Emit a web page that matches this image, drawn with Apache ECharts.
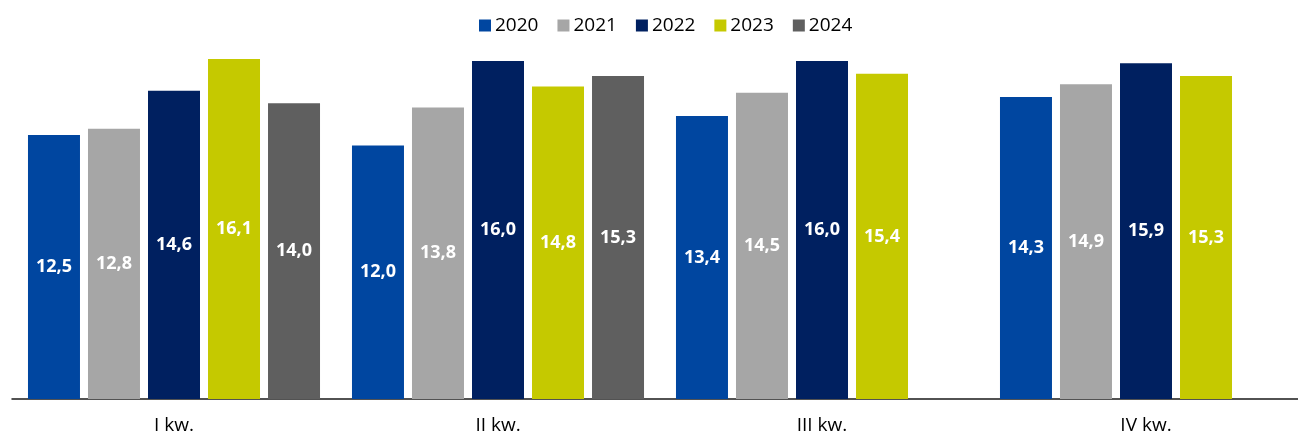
<!DOCTYPE html>
<html>
<head>
<meta charset="utf-8">
<script src="https://cdn.jsdelivr.net/npm/echarts@6/dist/echarts.min.js"></script>
<style>
  html, body { margin: 0; padding: 0; background: #fff; overflow: hidden; }
  /* the plot area runs a little past the right edge of the page */
  #chart { width: 1310px; height: 435px; }
</style>
</head>
<body>
<div id="chart"></div>
<script>
// Quarterly values per year
const quarters = ['I kw.', 'II kw.', 'III kw.', 'IV kw.'];
const years = ['2020', '2021', '2022', '2023', '2024'];
const v2020 = [12.5, 12.0, 13.4, 14.3];
const v2021 = [12.8, 13.8, 14.5, 14.9];
const v2022 = [14.6, 16.0, 16.0, 15.9];
const v2023 = [16.1, 14.8, 15.4, 15.3];
const v2024 = [14.0, 15.3, null, null];

const values = [v2020, v2021, v2022, v2023, v2024];
const colors = ['#0046A0', '#A6A6A6', '#002060', '#C5C900', '#5F5F5F'];

const FONT = '"Open Sans", "Liberation Sans", sans-serif';

const chart = echarts.init(document.getElementById('chart'), null, { renderer: 'canvas' });

chart.setOption({
  animation: false,
  backgroundColor: '#ffffff',
  color: colors,
  legend: {
    data: years,
    left: 474,
    top: 11,
    icon: 'rect',
    itemWidth: 12,
    itemHeight: 12,
    itemGap: 19,
    textStyle: { fontFamily: FONT, fontSize: 19, color: '#000000', padding: [0, 0, 0, -1] }
  },
  grid: { left: 12, right: 2, top: 40, bottom: 36, containLabel: false },
  xAxis: {
    type: 'category',
    data: quarters,
    axisTick: { show: false },
    axisLine: { lineStyle: { color: '#1a1a1a', width: 1.5 } },
    axisLabel: { fontFamily: FONT, fontSize: 19, color: '#000000', margin: 17 }
  },
  yAxis: {
    type: 'value',
    min: 0,
    max: 17,
    show: false,
    splitLine: { show: false }
  },
  series: years.map((y, i) => ({
    name: y,
    type: 'bar',
    data: values[i],
    barWidth: 52,
    barGap: '15.4%',
    itemStyle: { color: colors[i] },
    label: {
      show: true,
      position: 'inside',
      color: '#ffffff',
      fontFamily: FONT,
      fontWeight: 'bold',
      fontSize: 18,
      formatter: p => p.value == null ? '' : p.value.toFixed(1).replace('.', ',')
    }
  }))
});
</script>
</body>
</html>
